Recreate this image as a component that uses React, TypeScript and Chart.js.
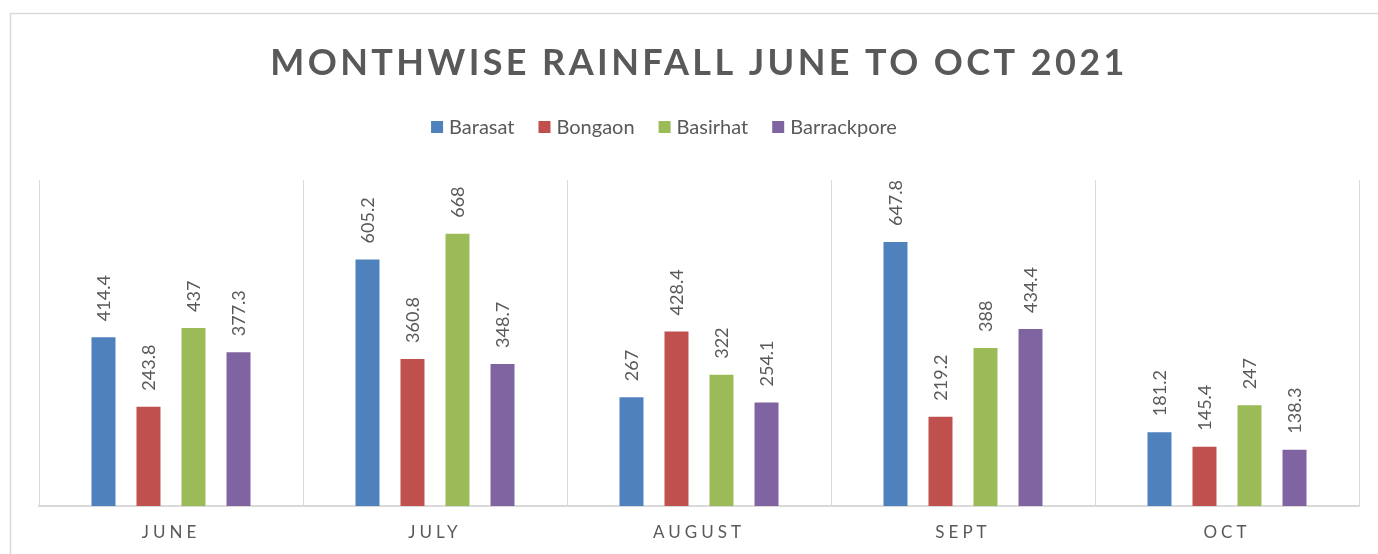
import React, { useEffect, useRef } from "react";
import { Chart, registerables } from "chart.js";

Chart.register(...registerables);

const TITLE = "MONTHWISE RAINFALL JUNE TO OCT 2021";
const months = ["JUNE", "JULY", "AUGUST", "SEPT", "OCT"];
const seriesNames = ["Barasat", "Bongaon", "Basirhat", "Barrackpore"];
const barasat = [414.4, 605.2, 267, 647.8, 181.2];
const bongaon = [243.8, 360.8, 428.4, 219.2, 145.4];
const basirhat = [437, 668, 322, 388, 247];
const barrackpore = [377.3, 348.7, 254.1, 434.4, 138.3];
const colors = ["#4F81BD", "#C0504D", "#9BBB59", "#8064A2"];
const yMax = 800;

const FONT = "Lato, 'Open Sans', sans-serif";
const TEXT = "#595959";
const GRID = "#D9D9D9";

const decorPlugin = {
  id: "decor",
  beforeDraw(chart: any) {
    const ctx = chart.ctx;
    ctx.save();
    ctx.fillStyle = "#ffffff";
    ctx.fillRect(0, 0, chart.width, chart.height);
    ctx.strokeStyle = GRID;
    ctx.lineWidth = 1.5;
    ctx.strokeRect(10.5, 13.5, chart.width + 20, chart.height + 20);
    ctx.restore();
  },
  afterDraw(chart: any) {
    const ctx = chart.ctx;
    ctx.save();
    // title
    ctx.fillStyle = TEXT;
    ctx.font = `bold 36px ${FONT}`;
    (ctx as any).letterSpacing = "3.4px";
    ctx.textAlign = "center";
    ctx.textBaseline = "alphabetic";
    ctx.fillText(TITLE, 699, 75);

    // legend
    (ctx as any).letterSpacing = "0px";
    ctx.font = `20px ${FONT}`;
    ctx.textAlign = "left";
    ctx.textBaseline = "middle";
    const box = 12;
    const gapBoxText = 6;
    const gapItems = 24;
    const ds = chart.data.datasets;
    const widths = ds.map((d: any) => box + gapBoxText + ctx.measureText(d.label).width);
    const total = widths.reduce((a: number, b: number) => a + b, 0) + gapItems * (ds.length - 1);
    let x = 664 - total / 2;
    const ly = 127;
    ds.forEach((d: any, i: number) => {
      ctx.fillStyle = d.backgroundColor;
      ctx.fillRect(x, ly - box / 2, box, box);
      ctx.fillStyle = TEXT;
      ctx.fillText(d.label, x + box + gapBoxText, ly + 1);
      x += widths[i] + gapItems;
    });

    // x labels
    const xs = chart.scales.x;
    ctx.font = `17px ${FONT}`;
    (ctx as any).letterSpacing = "4px";
    ctx.textAlign = "center";
    ctx.textBaseline = "middle";
    ctx.fillStyle = TEXT;
    chart.data.labels.forEach((lab: string, i: number) => {
      ctx.fillText(lab, xs.getPixelForValue(i), 533);
    });
    ctx.restore();
  },
  afterDatasetsDraw(chart: any) {
    const ctx = chart.ctx;
    ctx.save();
    ctx.font = `18px ${FONT}`;
    ctx.fillStyle = TEXT;
    ctx.textAlign = "left";
    ctx.textBaseline = "middle";
    chart.data.datasets.forEach((d: any, di: number) => {
      const meta = chart.getDatasetMeta(di);
      meta.data.forEach((el: any, i: number) => {
        ctx.save();
        ctx.translate(el.x + 1, el.y - 16);
        ctx.rotate(-Math.PI / 2);
        ctx.fillText(String(d.data[i]), 0, 0);
        ctx.restore();
      });
    });
    ctx.restore();
  },
};

export default function App() {
  const ref = useRef<HTMLCanvasElement>(null);
  useEffect(() => {
    if (!ref.current) return;
    const series = [barasat, bongaon, basirhat, barrackpore];
    const chart = new Chart(ref.current, {
      type: "bar",
      data: {
        labels: months,
        datasets: series.map((data, i) => ({
          label: seriesNames[i],
          data,
          backgroundColor: colors[i],
          categoryPercentage: 0.682,
          barPercentage: 0.533,
        })),
      },
      options: {
        animation: false,
        responsive: false,
        maintainAspectRatio: false,
        layout: { padding: { left: 39, right: 19, top: 180, bottom: 48 } },
        plugins: {
          legend: { display: false },
          title: { display: false },
          tooltip: { enabled: false },
        },
        scales: {
          x: {
            grid: { offset: true, color: GRID, drawTicks: false, lineWidth: 1 },
            border: { color: GRID, width: 2 },
            ticks: { display: false },
          },
          y: {
            display: false,
            min: 0,
            max: yMax,
          },
        },
      },
      plugins: [decorPlugin],
    });
    return () => chart.destroy();
  }, []);
  return (
    <div style={{ position: "absolute", left: 0, top: 0, width: 1378, height: 554 }}>
      <canvas ref={ref} width={1378} height={554} style={{ display: "block" }} />
    </div>
  );
}
